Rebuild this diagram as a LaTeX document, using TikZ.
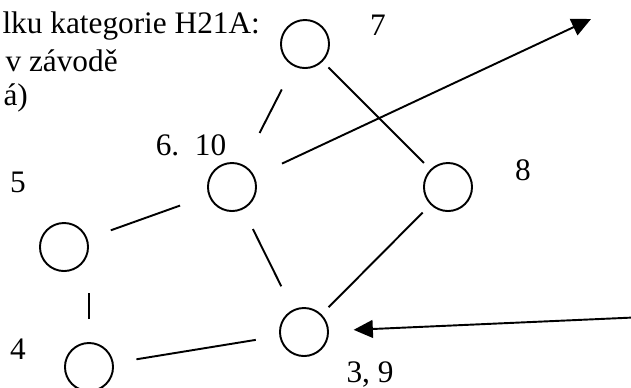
\documentclass[tikz,border=0pt]{standalone}
\usepackage{fontspec}
\setmainfont{Liberation Serif}
\usetikzlibrary{arrows.meta}
\tikzset{
  vrchol/.style={draw, circle, minimum size=17.5pt, inner sep=0pt, line width=0.7pt},
  popis/.style={inner sep=0pt, font=\fontsize{11.4}{13.5}\selectfont},
  hrana/.style={line width=0.7pt},
  sipka/.style={line width=0.7pt, -{Triangle[length=7pt,width=6.5pt]}}
}
\begin{document}
\begin{tikzpicture}[x=0.0128cm, y=-0.0128cm]
    \useasboundingbox (0,0) rectangle (631,387);
    %text
    \node[popis, anchor=base west] (t1) at (2,33) {lku kategorie H21A:};
    \node[popis, anchor=base west] (t2) at (5,71) {v závodě};
    \node[popis, anchor=base west] (t3) at (3,105) {á)};
    %vertices
    \node[vrchol] (c7) at (305,44) {};
    \node[vrchol] (c610) at (232,187) {};
    \node[vrchol] (c5) at (64,247) {};
    \node[vrchol] (c4) at (89,367) {};
    \node[vrchol] (c39) at (304,332) {};
    \node[vrchol] (c8) at (448,187) {};
    %labels
    \node[popis, anchor=base] (l7) at (378,35) {7};
    \node[popis, anchor=base] (l610) at (191,155) {6.\ \ 10};
    \node[popis, anchor=base] (l5) at (18,192) {5};
    \node[popis, anchor=base] (l4) at (18,359) {4};
    \node[popis, anchor=base] (l39) at (370,382) {3, 9};
    \node[popis, anchor=base] (l8) at (523,180) {8};
    %edges
    \draw[hrana, shorten <=9.5pt, shorten >=13pt] (c7) -- (c610);
    \draw[hrana, shorten <=3pt, shorten >=3.3pt] (c7) -- (c8);
    \draw[hrana, shorten <=9pt, shorten >=11pt] (c5) -- (c610);
    \draw[hrana, shorten <=8pt, shorten >=9.5pt] (c610) -- (c39);
    \draw[hrana, shorten <=8.4pt, shorten >=8.7pt] (c4) -- (c39);
    \draw[hrana, shorten <=4pt, shorten >=3.6pt] (c8) -- (c39);
    \draw[hrana] (c4.north) ++(0,-23) -- ++(0,-26);
    %arrows
    \coordinate (vystup) at (591,19);
    \coordinate (vstup) at (645,317);
    \draw[sipka, shorten <=11pt] (c610) -- (vystup);
    \draw[sipka, shorten >=9pt] (vstup) -- (c39);
\end{tikzpicture}
\end{document}
